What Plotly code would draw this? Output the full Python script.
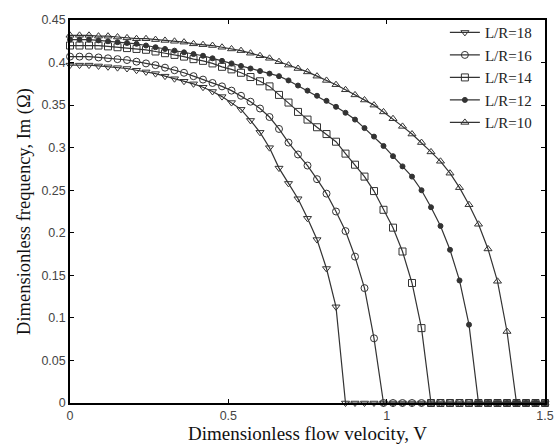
import plotly.graph_objects as go

# Flow velocity grid (step 0.03)
V = [round(0.03 * i, 2) for i in range(51)]

lr18 = [0.397, 0.397, 0.397, 0.396, 0.395, 0.394, 0.393, 0.391, 0.389, 0.387,
        0.384, 0.381, 0.378, 0.375, 0.371, 0.366, 0.360, 0.353, 0.345, 0.332,
        0.318, 0.300, 0.276, 0.258, 0.240, 0.217, 0.192, 0.158, 0.113] + [0.0] * 22

lr16 = [0.407, 0.407, 0.407, 0.406, 0.405, 0.404, 0.403, 0.401, 0.399, 0.397,
        0.394, 0.391, 0.388, 0.384, 0.380, 0.376, 0.372, 0.367, 0.361, 0.354,
        0.346, 0.336, 0.322, 0.306, 0.292, 0.279, 0.263, 0.246, 0.225, 0.202,
        0.172, 0.135, 0.076] + [0.0] * 18

lr14 = [0.420, 0.420, 0.420, 0.420, 0.419, 0.418, 0.417, 0.416, 0.415, 0.413,
        0.411, 0.409, 0.407, 0.404, 0.402, 0.399, 0.395, 0.392, 0.388, 0.383,
        0.378, 0.372, 0.362, 0.353, 0.342, 0.333, 0.324, 0.316, 0.307, 0.293,
        0.280, 0.266, 0.249, 0.227, 0.206, 0.178, 0.141, 0.088] + [0.0] * 13

lr12 = [0.427, 0.427, 0.427, 0.426, 0.425, 0.424, 0.423, 0.422, 0.420, 0.418,
        0.416, 0.414, 0.412, 0.410, 0.408, 0.405, 0.402, 0.399, 0.396, 0.393,
        0.390, 0.387, 0.384, 0.379, 0.373, 0.367, 0.361, 0.355, 0.348, 0.341,
        0.333, 0.323, 0.313, 0.302, 0.290, 0.278, 0.266, 0.250, 0.230, 0.208,
        0.180, 0.144, 0.092] + [0.0] * 8

lr10 = [0.432, 0.432, 0.432, 0.431, 0.431, 0.430, 0.429, 0.428, 0.428, 0.427,
        0.426, 0.425, 0.424, 0.422, 0.421, 0.420, 0.418, 0.416, 0.414, 0.411,
        0.408, 0.405, 0.401, 0.397, 0.393, 0.389, 0.384, 0.379, 0.374, 0.368,
        0.362, 0.356, 0.350, 0.342, 0.334, 0.325, 0.316, 0.306, 0.295, 0.284,
        0.270, 0.253, 0.233, 0.210, 0.181, 0.143, 0.084] + [0.0] * 4

series = [
    ("L/R=18", lr18, "triangle-down-open", 7),
    ("L/R=16", lr16, "circle-open", 7),
    ("L/R=14", lr14, "square-open", 7),
    ("L/R=12", lr12, "circle", 5),
    ("L/R=10", lr10, "triangle-up-open", 7),
]

fig = go.Figure()
for name, ys, sym, size in series:
    fig.add_trace(go.Scatter(
        x=V, y=ys, name=name, mode="lines+markers",
        line=dict(color="#333333", width=1.2),
        marker=dict(symbol=sym, size=size, color="#333333",
                    line=dict(color="#333333", width=1)),
        cliponaxis=False,
    ))

axis_common = dict(
    showline=True, linecolor="black", linewidth=1.5, mirror="ticks",
    ticks="inside", ticklen=4, tickcolor="black", showgrid=False, zeroline=False,
    tickfont=dict(family="Liberation Sans, Arial", size=12.5, color="#444"),
)

title_font_x = dict(family="Liberation Serif, Times New Roman", size=19, color="#111")
title_font_y = dict(family="Liberation Serif, Times New Roman", size=18.5, color="#111")

fig.update_xaxes(range=[0, 1.5], tickvals=[0, 0.5, 1, 1.5], ticktext=["0", "0.5", "1", "1.5"],
                 title=dict(text="Dimensionless flow velocity, V", font=title_font_x, standoff=4),
                 **axis_common)
fig.update_yaxes(range=[0, 0.45], tickvals=[0, 0.05, 0.1, 0.15, 0.2, 0.25, 0.3, 0.35, 0.4, 0.45],
                 ticktext=["0", "0.05", "0.1", "0.15", "0.2", "0.25", "0.3", "0.35", "0.4", "0.45"],
                 title=dict(text="Dimensionless frequency, Im (Ω)", font=title_font_y, standoff=6),
                 **axis_common)

fig.update_layout(
    width=556, height=447,
    margin=dict(l=70, r=11, t=20, b=44, autoexpand=False),
    paper_bgcolor="white", plot_bgcolor="white",
    showlegend=True,
    legend=dict(x=0.985, xanchor="right", y=1.01, yanchor="top",
                bgcolor="rgba(255,255,255,0)", borderwidth=0,
                font=dict(family="Liberation Serif, Times New Roman", size=15, color="#222"),
                tracegroupgap=0, itemwidth=30),
)

fig.write_html("out.html")
